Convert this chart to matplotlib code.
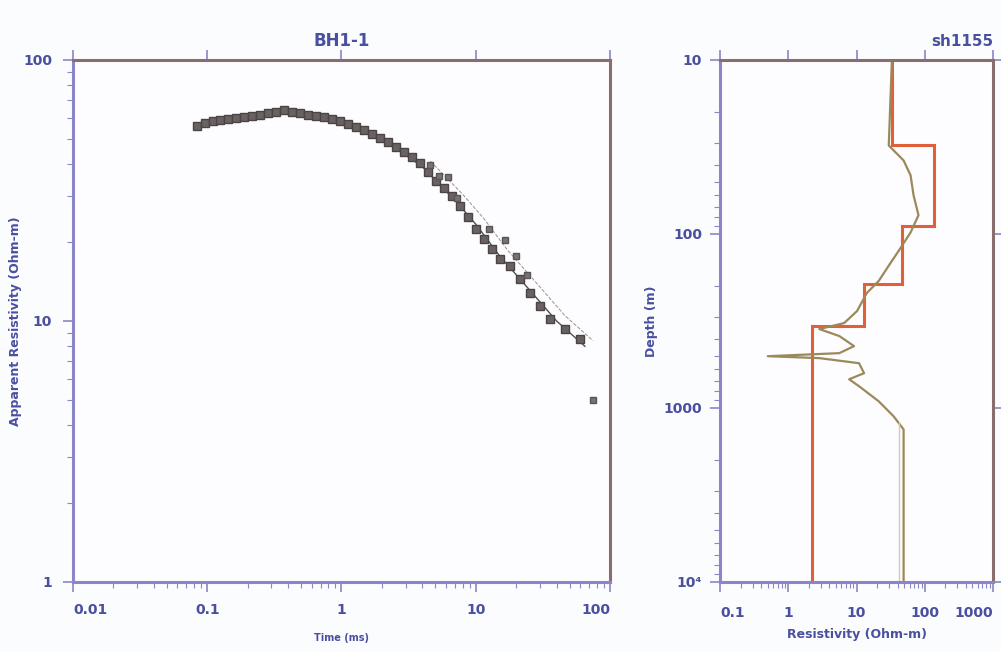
import numpy as np
import matplotlib
matplotlib.use("Agg")
import matplotlib.pyplot as plt
from matplotlib.ticker import LogLocator, NullFormatter, FixedLocator, FixedFormatter

# ---- sounding curve (left panel) ----
time_ms = [0.084, 0.096, 0.110, 0.124, 0.143, 0.164, 0.188, 0.215, 0.247, 0.284,
           0.325, 0.373, 0.428, 0.491, 0.562, 0.646, 0.741, 0.849, 0.975, 1.12,
           1.28, 1.47, 1.69, 1.94, 2.22, 2.55, 2.92, 3.35, 3.85, 4.41,
           5.06, 5.80, 6.65, 7.63, 8.75, 10.0, 11.5, 13.2, 15.2, 18.0,
           21.4, 25.4, 30.1, 35.7, 46.2, 59.8]
app_res = [55.7, 57.2, 58.2, 58.8, 59.3, 59.8, 60.4, 60.9, 61.4, 62.5,
           63.1, 64.2, 63.1, 62.5, 61.4, 60.9, 60.4, 59.3, 58.2, 56.7,
           55.2, 53.8, 51.9, 50.1, 48.4, 46.3, 44.3, 42.4, 40.2, 37.1,
           34.5, 32.2, 30.0, 27.5, 25.1, 22.6, 20.7, 18.9, 17.3, 16.3,
           14.5, 12.8, 11.4, 10.2, 9.3, 8.5]
# scattered / late readings
extra_time = [4.6, 5.3, 6.2, 7.2, 12.5, 16.5, 20.0, 24.0, 74.7]
extra_res = [39.5, 36.0, 35.5, 29.5, 22.5, 20.5, 17.8, 15.0, 5.0]
# model response
fit_time = [0.08, 0.15, 0.3, 0.5, 1.0, 2.0, 4.0, 7.0, 10.0, 15.0, 25.0, 40.0, 65.0]
fit_res = [56.0, 59.5, 63.0, 62.5, 58.0, 50.0, 39.0, 29.0, 23.5, 17.8, 13.2, 10.0, 8.0]

# ---- layered model (right panel) ----
layer_res = [33, 135, 46, 13, 2.2]
layer_top = [10, 31, 90, 195, 340]
smooth_res = [33, 29.7, 49, 62, 68.6, 81, 62, 41.5, 29.7, 21.2, 14.2, 10.2, 6.6, 2.85,
              5.6, 9.2, 5.6, 0.5, 2.85, 10.9, 12.9, 7.8, 10.9, 21.2, 35, 49, 49]
smooth_depth = [10, 31, 37.8, 46, 60, 78, 98, 125, 152, 186, 218, 277, 325, 352,
                386, 441, 484, 504, 517, 553, 631, 684, 750, 916, 1117, 1328, 10000]

navy = "#4a4fa0"
spine_lr = "#8a86c8"
spine_tr = "#8a6e6e"

fig = plt.figure(figsize=(10.01, 6.52), dpi=100)
fig.patch.set_facecolor("#fbfcfe")

def style_axes(ax):
    ax.set_facecolor("#fdfdff")
    for s in ("left", "bottom"):
        ax.spines[s].set_color(spine_lr)
        ax.spines[s].set_linewidth(2.2)
    for s in ("top", "right"):
        ax.spines[s].set_color(spine_tr)
        ax.spines[s].set_linewidth(2.2)
    ax.tick_params(which="both", colors=spine_lr, labelcolor=navy, direction="out")
    ax.tick_params(which="major", length=7, width=1.2, labelsize=10)
    ax.tick_params(which="minor", length=4, width=0.8)
    # only major ticks on the top and right frame
    ax.tick_params(which="major", top=True, right=True)
    ax.tick_params(which="minor", top=False, right=False)
    for lab in ax.get_xticklabels() + ax.get_yticklabels():
        lab.set_fontweight("bold")

def log_axes(ax, xticks, xlabels, yticks, ylabels):
    ax.xaxis.set_major_locator(FixedLocator(xticks))
    ax.xaxis.set_major_formatter(FixedFormatter(xlabels))
    ax.xaxis.set_minor_locator(LogLocator(base=10, subs=np.arange(2, 10)))
    ax.xaxis.set_minor_formatter(NullFormatter())
    ax.yaxis.set_major_locator(FixedLocator(yticks))
    ax.yaxis.set_major_formatter(FixedFormatter(ylabels))
    ax.yaxis.set_minor_locator(LogLocator(base=10, subs=np.arange(2, 10)))
    ax.yaxis.set_minor_formatter(NullFormatter())

# left panel
ax1 = fig.add_axes([0.0729, 0.1074, 0.5365, 0.8006])
ax1.set_xscale("log")
ax1.set_yscale("log")
ax1.set_xlim(0.01, 100)
ax1.set_ylim(1, 100)
ax1.plot(fit_time, fit_res, color="#555050", lw=1.0)
ax1.plot([t * 1.15 for t in fit_time[6:]], [r * 1.05 for r in fit_res[6:]],
         color="#9a9090", lw=0.7, ls="--")
ax1.plot(time_ms, app_res, ls="none", marker="s", ms=6, color="#6a6262",
         markeredgecolor="#4a4444")
ax1.plot(extra_time, extra_res, ls="none", marker="s", ms=5, color="#7a7272",
         markeredgecolor="#5a5454")
log_axes(ax1, [0.01, 0.1, 1, 10, 100], ["0.01", "0.1", "1", "10", "100"],
         [1, 10, 100], ["1", "10", "100"])
style_axes(ax1)
ax1.tick_params(axis="x", pad=8)
ax1.tick_params(axis="y", pad=8)
ax1.tick_params(which="major", right=False)
xl = ax1.get_xticklabels()
xl[0].set_horizontalalignment("left")
xl[-1].set_horizontalalignment("right")
ax1.set_title("BH1-1", color=navy, fontsize=12, fontweight="bold", pad=10)
ax1.set_xlabel("Time (ms)", color=navy, fontsize=7, fontweight="bold", labelpad=12)
ax1.set_ylabel("Apparent Resistivity (Ohm-m)", color=navy, fontsize=9,
               fontweight="bold")
ax1.yaxis.set_label_coords(-0.095, 0.5)

# right panel
ax2 = fig.add_axes([0.7193, 0.1074, 0.2727, 0.8006])
ax2.set_xscale("log")
ax2.set_yscale("log")
ax2.set_xlim(0.1, 1000)
ax2.set_ylim(10000, 10)
ax2.plot(smooth_res, smooth_depth, color="#9a8a5a", lw=1.6)
ax2.plot([42, 42], [1200, 10000], color="#d8c8b0", lw=1.0)
ax2.stairs(layer_res, layer_top + [10000], orientation="horizontal",
           baseline=None, color="#e0603a", lw=2.2)
log_axes(ax2, [0.1, 1, 10, 100, 1000], ["0.1", "1", "10", "100", "1000"],
         [10, 100, 1000, 10000], ["10", "100", "1000", "10⁴"])
style_axes(ax2)
ax2.tick_params(axis="x", pad=10)
ax2.tick_params(axis="y", pad=6)
xl = ax2.get_xticklabels()
xl[0].set_horizontalalignment("left")
xl[-1].set_horizontalalignment("right")
ax2.set_title("sh1155", color=navy, fontsize=11, fontweight="bold", loc="right", pad=10)
ax2.set_xlabel("Resistivity (Ohm-m)", color=navy, fontsize=9, fontweight="bold", labelpad=6)
ax2.set_ylabel("Depth (m)", color=navy, fontsize=9, fontweight="bold", labelpad=4)

fig.savefig("out.png", dpi=100, facecolor=fig.get_facecolor())
